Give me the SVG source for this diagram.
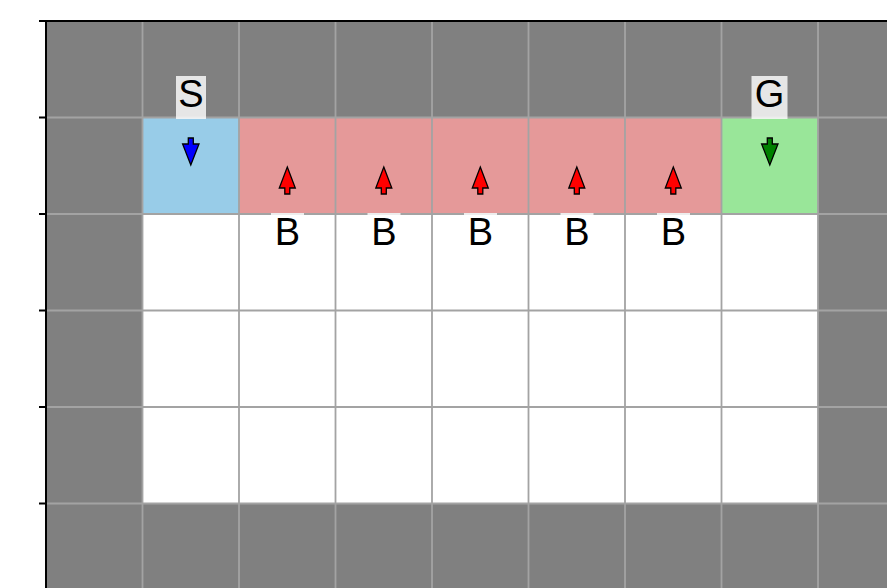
<svg xmlns="http://www.w3.org/2000/svg" width="887" height="588" viewBox="0 0 887 588">
<style>
.g{fill:#808080}.w{fill:#ffffff}.s{fill:#98cce8}.b{fill:#e59999}.gl{fill:#99e699}
.grid{stroke:#a3a3a3;stroke-width:1.8;fill:none}
.ax{stroke:#000;stroke-width:2;fill:none}
.arr{stroke:#000;stroke-width:1.3;stroke-linejoin:miter}
.lb{font-family:"Liberation Sans",Arial,sans-serif;font-size:38px;fill:#000;text-anchor:middle}
.bx{fill:#fff;fill-opacity:0.8}
</style>
<rect x="0" y="0" width="887" height="588" fill="#fff"/>
<g id="cells">
<rect class="g" x="46" y="21" width="841" height="567"/>
<rect class="w" x="142.5" y="214" width="675.5" height="289.5"/>
<rect class="s" x="142.5" y="117.5" width="96.5" height="96.5"/>
<rect class="b" x="239" y="117.5" width="482.5" height="96.5"/>
<rect class="gl" x="721.5" y="117.5" width="96.5" height="96.5"/>
</g>
<g id="gridlines" class="grid">
<path d="M142.5 21V588M239 21V588M335.5 21V588M432 21V588M528.5 21V588M625 21V588M721.5 21V588M818 21V588"/>
<path d="M46 117.5H887M46 214H887M46 310.5H887M46 407H887M46 503.5H887"/>
</g>
<g id="axes" class="ax">
<path d="M46 20V588M45 21H887"/>
<path d="M39 21H46M39 117.5H46M39 214H46M39 310.5H46M39 407H46M39 503.5H46"/>
</g>
<g id="arrows">
<g id="arrow-s"><polygon class="arr" fill="#0000ff" points="188.3,138 193.3,138 193.3,144 199,144 190.8,165 182.6,144 188.3,144"/></g>
<g id="arrow-g"><polygon class="arr" fill="#008000" points="767.3,138 772.3,138 772.3,144 778,144 769.8,165 761.6,144 767.3,144"/></g>
<g id="arrow-b1"><polygon class="arr" fill="#ff0000" points="287.3,167 295.3,188 289.8,188 289.8,194 284.8,194 284.8,188 279.3,188"/></g>
<g id="arrow-b2"><polygon class="arr" fill="#ff0000" points="383.8,167 391.8,188 386.3,188 386.3,194 381.3,194 381.3,188 375.8,188"/></g>
<g id="arrow-b3"><polygon class="arr" fill="#ff0000" points="480.3,167 488.3,188 482.8,188 482.8,194 477.8,194 477.8,188 472.3,188"/></g>
<g id="arrow-b4"><polygon class="arr" fill="#ff0000" points="576.8,167 584.8,188 579.3,188 579.3,194 574.3,194 574.3,188 568.8,188"/></g>
<g id="arrow-b5"><polygon class="arr" fill="#ff0000" points="673.3,167 681.3,188 675.8,188 675.8,194 670.8,194 670.8,188 665.3,188"/></g>
</g>
<g id="label-S"><rect class="bx" x="176" y="76" width="30" height="43"/><text class="lb" x="191" y="107">S</text></g>
<g id="label-G"><rect class="bx" x="751.5" y="76" width="36" height="43"/><text class="lb" x="769.5" y="107">G</text></g>
<g id="label-B1"><rect class="bx" x="271" y="213" width="33" height="43"/><text class="lb" x="287.5" y="245">B</text></g>
<g id="label-B2"><rect class="bx" x="367.5" y="213" width="33" height="43"/><text class="lb" x="384" y="245">B</text></g>
<g id="label-B3"><rect class="bx" x="464" y="213" width="33" height="43"/><text class="lb" x="480.5" y="245">B</text></g>
<g id="label-B4"><rect class="bx" x="560.5" y="213" width="33" height="43"/><text class="lb" x="577" y="245">B</text></g>
<g id="label-B5"><rect class="bx" x="657" y="213" width="33" height="43"/><text class="lb" x="673.5" y="245">B</text></g>
</svg>
